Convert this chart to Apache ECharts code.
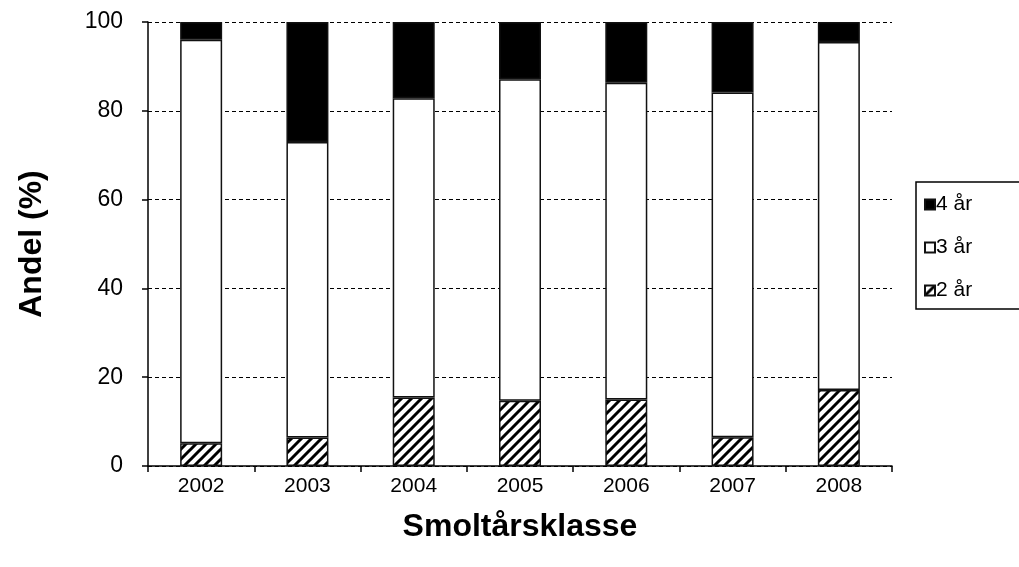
<!DOCTYPE html>
<html><head><meta charset="utf-8">
<script src="https://cdn.jsdelivr.net/npm/echarts@6/dist/echarts.min.js"></script>
<style>html,body{margin:0;padding:0;background:#fff}#c{width:1019px;height:567px}</style>
</head><body><div id="c"></div>
<script>
var categories = ['2002','2003','2004','2005','2006','2007','2008'];
var twoYear   = [5.1, 6.4, 15.4, 14.7, 15.0, 6.5, 17.1];
var threeYear = [90.9, 66.6, 67.4, 72.4, 71.3, 77.6, 78.4];
var fourYear  = [4.0, 27.0, 17.2, 12.9, 13.7, 15.9, 4.5];
var yTicks = [0, 20, 40, 60, 80, 100];

var pc = document.createElement('canvas');
pc.width = 10; pc.height = 10;
var g = pc.getContext('2d');
g.fillStyle = '#fff'; g.fillRect(0,0,10,10);
g.strokeStyle = '#000'; g.lineWidth = 3;
g.beginPath();
g.moveTo(0,10); g.lineTo(10,0);
g.moveTo(-5,5); g.lineTo(5,-5);
g.moveTo(5,15); g.lineTo(15,5);
g.stroke();

var font = 'Liberation Sans, Arial, sans-serif';
var chart = echarts.init(document.getElementById('c'), null, {renderer:'canvas'});
var border = {borderColor:'#111', borderWidth:1.5};
chart.setOption({
  animation:false,
  textStyle:{fontFamily:font},
  grid:{left:148, right:127, top:22, bottom:101},
  legend:{
    orient:'vertical', left:916, top:182, width:120,
    data:['4 år','3 år','2 år'],
    borderColor:'#000', borderWidth:1.5,
    padding:[12,60,8,8], itemGap:22,
    itemWidth:10, itemHeight:10, icon:'rect',
    textStyle:{fontSize:21, color:'#000', fontFamily:font, padding:[0,0,0,-4]}
  },
  xAxis:{
    type:'category', data:categories,
    name:'Smoltårsklasse', nameLocation:'middle', nameGap:45,
    nameTextStyle:{fontSize:32, fontWeight:'bold', color:'#000', fontFamily:font},
    axisLine:{lineStyle:{color:'#000', width:1.5}},
    axisTick:{show:true, length:6, lineStyle:{color:'#000', width:1.5}},
    axisLabel:{fontSize:21, color:'#000', margin:10, fontFamily:font}
  },
  yAxis:{
    type:'value', min:0, max:100, interval:20,
    name:'Andel (%)', nameLocation:'middle', nameGap:100,
    nameTextStyle:{fontSize:32, fontWeight:'bold', color:'#000', fontFamily:font},
    axisLine:{show:true, lineStyle:{color:'#000', width:1.5}},
    axisTick:{show:true, length:6, lineStyle:{color:'#000', width:1.5}},
    axisLabel:{fontSize:23, color:'#000', margin:25, fontFamily:font,
      formatter:function(v){return yTicks.indexOf(v)>=0 ? String(v) : '';}},
    splitLine:{show:true, lineStyle:{color:'#000', width:1, type:[4,3]}}
  },
  series:[
    {name:'2 år', type:'bar', stack:'a', barWidth:42, data:twoYear,
     itemStyle:Object.assign({color:{image:pc, repeat:'repeat'}}, border)},
    {name:'3 år', type:'bar', stack:'a', barWidth:42, data:threeYear,
     itemStyle:Object.assign({color:'#fff'}, border)},
    {name:'4 år', type:'bar', stack:'a', barWidth:42, data:fourYear,
     itemStyle:Object.assign({color:'#000'}, border)}
  ]
});
</script></body></html>
